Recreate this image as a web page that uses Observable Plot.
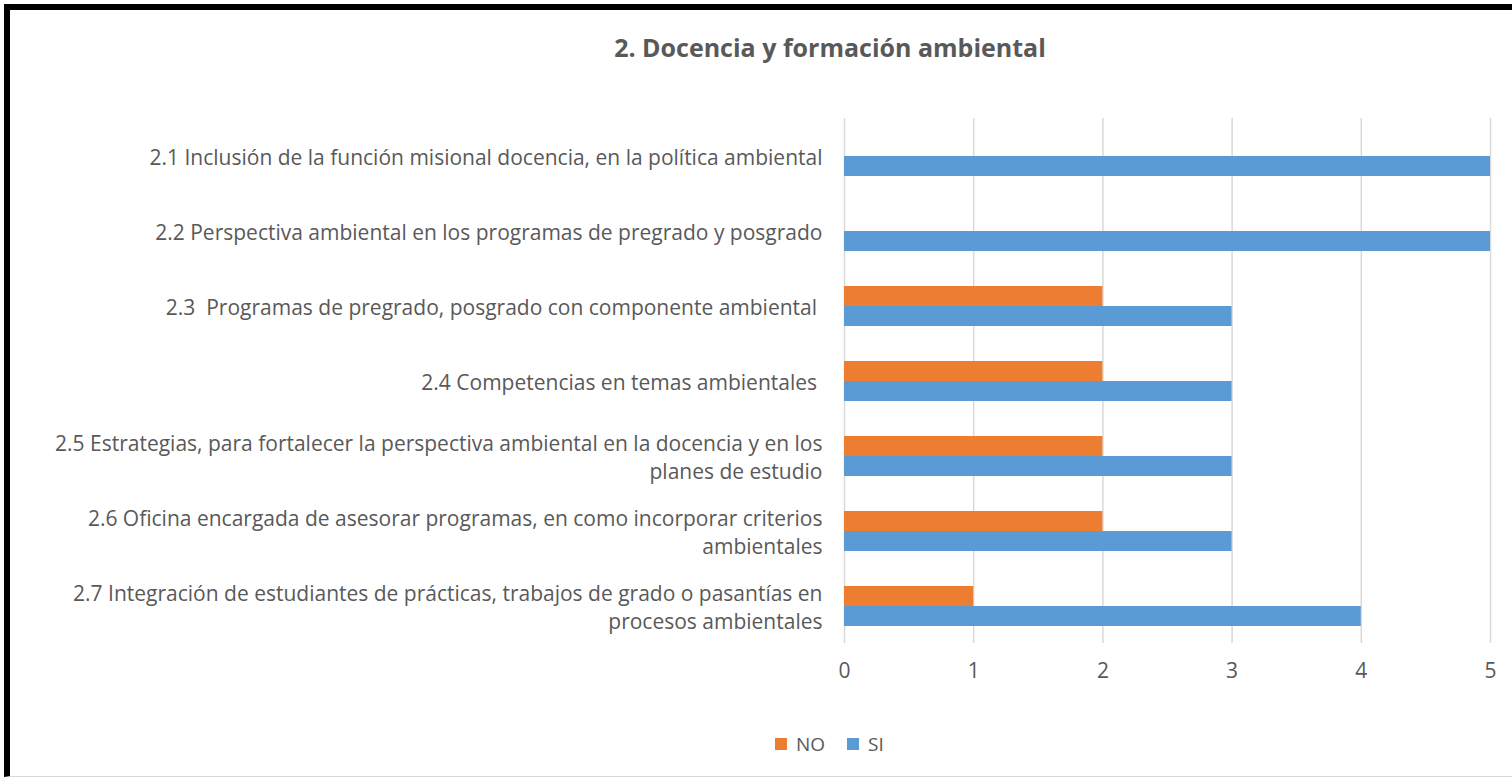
<!DOCTYPE html>
<html>
<head>
<meta charset="utf-8">
<script src="https://cdn.jsdelivr.net/npm/d3@7"></script>
<script src="https://cdn.jsdelivr.net/npm/@observablehq/plot@0.6"></script>
<style>
  html, body { margin: 0; padding: 0; background: #fff; }
  #wrap { position: relative; width: 1512px; height: 777px; overflow: hidden; font-family: "Open Sans", Lato, sans-serif; }
  #frame { position: absolute; left: 4px; top: 4px; width: 1530px; height: 773px; box-sizing: border-box;
           border-top: 6px solid #000; border-left: 6px solid #000; border-bottom: 1px solid #d9d9d9; }
  #title { position: absolute; top: 30px; left: 0; width: 1660px; text-align: center; font-weight: bold;
           font-size: 25px; color: #595959; }
  #chart { position: absolute; left: 0; top: 0; }
  #legend { position: absolute; top: 731px; left: 775px; display: flex; align-items: center; font-size: 19px; color: #595959; }
  #legend .sw { width: 12px; height: 12px; display: inline-block; margin-right: 9px; }
  #legend .item { display: flex; align-items: center; margin-right: 22px; }
</style>
</head>
<body>
<div id="wrap">
  <div id="frame"></div>
  <div id="title">2. Docencia y formación ambiental</div>
  <div id="chart"></div>
  <div id="legend"></div>
</div>
<script>
const categories = [
  "2.1 Inclusión de la función misional docencia, en la política ambiental",
  "2.2 Perspectiva ambiental en los programas de pregrado y posgrado",
  "2.3  Programas de pregrado, posgrado con componente ambiental ",
  "2.4 Competencias en temas ambientales ",
  "2.5 Estrategias, para fortalecer la perspectiva ambiental en la docencia y en los\nplanes de estudio",
  "2.6 Oficina encargada de asesorar programas, en como incorporar criterios\nambientales",
  "2.7 Integración de estudiantes de prácticas, trabajos de grado o pasantías en\nprocesos ambientales"
];
const series = ["NO", "SI"];
const valuesNO = [0, 0, 2, 2, 2, 2, 1];
const valuesSI = [5, 5, 3, 3, 3, 3, 4];
const xTicks = [0, 1, 2, 3, 4, 5];
const colors = ["#ED7D31", "#5B9BD5"];

const rows = [];
categories.forEach((c, i) => {
  if (valuesNO[i] > 0) rows.push({cat: c, serie: "NO", value: valuesNO[i]});
  if (valuesSI[i] > 0) rows.push({cat: c, serie: "SI", value: valuesSI[i]});
});
const labelRows = categories.map(c => ({cat: c}));

const chart = Plot.plot({
  width: 1512,
  height: 700,
  marginLeft: 844,
  marginRight: 22,
  marginTop: 118,
  marginBottom: 57,
  style: {fontFamily: "'Open Sans', Lato, sans-serif", background: "transparent"},
  x: {domain: [0, 5], ticks: xTicks, axis: null, label: null},
  y: {domain: series, paddingInner: 0, paddingOuter: 0.875, axis: null},
  fy: {domain: categories, padding: 0, axis: null},
  color: {domain: series, range: colors},
  marks: [
    Plot.gridX(xTicks, {stroke: "#d9d9d9", strokeOpacity: 1, strokeWidth: 1.5}),
    Plot.barX(rows, {fy: "cat", y: "serie", x: "value", fill: "serie"}),
    Plot.text(labelRows, {fy: "cat", text: "cat", frameAnchor: "left", textAnchor: "end", dx: -22,
      fontSize: 21, lineHeight: 1.34, fill: "#595959"}),
    Plot.axisX(xTicks, {tickSize: 0, tickPadding: 20, fontSize: 21, fill: "#595959", color: "#595959",
      label: null, tickFormat: d => String(d)})
  ]
});
document.getElementById("chart").appendChild(chart);

const legend = document.getElementById("legend");
series.forEach((s, i) => {
  const item = document.createElement("div");
  item.className = "item";
  const sw = document.createElement("span");
  sw.className = "sw";
  sw.style.background = colors[i];
  item.appendChild(sw);
  item.appendChild(document.createTextNode(s));
  legend.appendChild(item);
});
</script>
</body>
</html>
